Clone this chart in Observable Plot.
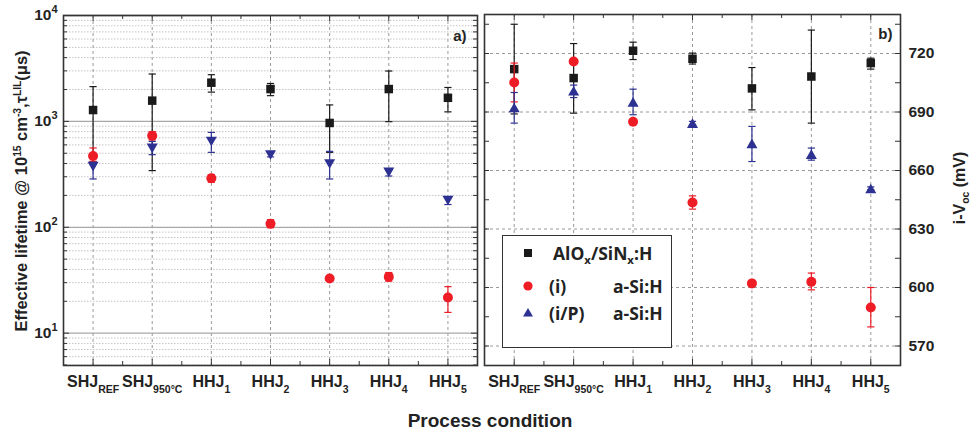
<!DOCTYPE html>
<html><head><meta charset="utf-8">
<script src="https://cdn.jsdelivr.net/npm/d3@7"></script>
<script src="https://cdn.jsdelivr.net/npm/@observablehq/plot@0.6"></script>
<style>
body{margin:0;background:#fff;}
#wrap{position:relative;width:971px;height:435px;overflow:hidden;font-family:"Liberation Sans",Arial,sans-serif;color:#222;}
.abs{position:absolute;white-space:nowrap;}
.rot{transform:translate(-50%,-50%) rotate(-90deg);}
.sup{font-size:0.62em;position:relative;top:-0.55em;}
.sub{font-size:0.65em;position:relative;top:0.35em;}
#legend{position:absolute;left:502px;top:235px;width:168px;height:111px;border:1.5px solid #333;background:#fff;font-family:"Open Sans",sans-serif;font-weight:700;font-size:17.5px;color:#222;}
#legend .it{position:absolute;white-space:nowrap;}
</style></head><body><div id="wrap"></div>
<script>
// ---- data ----
const categories = ["SHJ_{REF}", "SHJ_{950°C}", "HHJ_{1}", "HHJ_{2}", "HHJ_{3}", "HHJ_{4}", "HHJ_{5}"];

// panel a: effective lifetime (µs)
const lifeAlox    = [1280, 1570, 2320, 2020, 966, 2020, 1670];
const lifeAloxLo  = [415, 343, 1890, 1750, 510, 994, 1230];
const lifeAloxHi  = [2130, 2800, 2760, 2280, 1430, 2990, 2090];
const lifeI       = [472, 733, 290, 108, 32.8, 34.0, 21.7];
const lifeILo     = [420, 668, 266, 99, 31.5, 31, 15.7];
const lifeIHi     = [561, 800, 314, 118, 34.2, 37.4, 27.5];
const lifeIP      = [374, 556, 647, 482, 396, 330, 179];
const lifeIPLo    = [286, 485, 510, 462, 286, 305, 164];
const lifeIPHi    = [410, 647, 787, 505, 521, 348, 192];

// panel b: i-Voc (mV)
const vocAlox     = [712.0, 707.4, 721.4, 717.3, 702.1, 708.2, 715.1];
const vocAloxLo   = [689, 689.4, 716.9, 714.6, 691.1, 684.3, 712];
const vocAloxHi   = [735, 725.1, 725.8, 720.2, 712.8, 732, 717.6];
const vocI        = [705.1, 715.9, 685.0, 643.6, 602.1, 602.9, 589.7];
const vocILo      = [695.2, 714.9, 684.2, 640.2, 601.2, 598.8, 579.8];
const vocIHi      = [715.1, 716.9, 685.8, 647, 603, 607.4, 600];
const vocIP       = [692.3, 700.9, 695.2, 684.3, 673.9, 668.4, 650.8];
const vocIPLo     = [684.3, 697.4, 688.6, 683.5, 664.6, 665.3, 650];
const vocIPHi     = [700, 703.8, 701.7, 685.2, 682.6, 671.5, 651.6];

// ticks
const lifeMajorTicks = [10, 100, 1000, 10000];
const lifeMinorTicks = [5,6,7,8,9,20,30,40,50,60,70,80,90,200,300,400,500,600,700,800,900,2000,3000,4000,5000,6000,7000,8000,9000];
const vocMajorTicks = [570, 600, 630, 660, 690, 720];
const vocAllTicks = [570,585,600,615,630,645,660,675,690,705,720,735];
const xMinorTicks = [1.5, 2.5, 3.5, 4.5, 5.5, 6.5];

const legendLabels = ["AlO<span class='sub'>x</span>/SiN<span class='sub'>x</span>:H", "(i)", "(i/P)"];

// ---- helpers ----
const idx = categories.map((_, i) => i + 1);
const rows = (v, lo, hi) => v.map((d, i) => ({x: i + 1, v: d, lo: lo[i], hi: hi[i]}));
const S3 = Math.sqrt(3);
const sym = {
  square: {draw(c, s) { const h = Math.sqrt(s) / 2; c.rect(-h, -h, 2 * h, 2 * h); }},
  triDown: {draw(c, s) { const w = Math.sqrt(s * 4 / S3) / 2, h = w * S3; c.moveTo(-w, -h / 2); c.lineTo(w, -h / 2); c.lineTo(0, h / 2); c.closePath(); }},
  triUp: {draw(c, s) { const w = Math.sqrt(s * 4 / S3) / 2, h = w * S3; c.moveTo(-w, h / 2); c.lineTo(w, h / 2); c.lineTo(0, -h / 2); c.closePath(); }},
  cap: {draw(c) { c.moveTo(-3.6, 0); c.lineTo(3.6, 0); }}
};
const BLACK = "#1a1a1a", RED = "#ee1c25", BLUE = "#2d3192";

function series(data, color, symbol, r) {
  return [
    Plot.ruleX(data, {x: "x", y1: "lo", y2: "hi", stroke: color, strokeWidth: 1.2}),
    Plot.dot(data, {x: "x", y: "lo", symbol: sym.cap, r: 4, stroke: color, fill: "none", strokeWidth: 1.2}),
    Plot.dot(data, {x: "x", y: "hi", symbol: sym.cap, r: 4, stroke: color, fill: "none", strokeWidth: 1.2}),
    Plot.dot(data, {x: "x", y: "v", symbol, r, fill: color, stroke: "none"})
  ];
}

function richify(svg) {
  d3.select(svg).selectAll("text").each(function () {
    const t = this.textContent;
    const m = t.match(/^(.*?)([_^])\{(.*)\}$/);
    if (!m) return;
    const sel = d3.select(this);
    sel.text(null);
    sel.append("tspan").text(m[1]);
    if (m[2] === "_") sel.append("tspan").attr("font-size", "10.5px").attr("dy", 6.5).text(m[3]);
    else sel.append("tspan").attr("font-size", "11px").attr("dy", -7).text(m[3]);
  });
}

const FONT = "'Liberation Sans', Arial, sans-serif";
const common = {
  height: 435, marginBottom: 70,
  style: {fontFamily: FONT, fontWeight: "bold", background: "transparent", overflow: "visible", color: "#222"}
};
const TL = 5; // inward tick length
const gridStroke = "#9a9a9a";

// ---- panel a ----
const FWa = 414, FHa = 350;
const A = {alox: rows(lifeAlox, lifeAloxLo, lifeAloxHi), i: rows(lifeI, lifeILo, lifeIHi), ip: rows(lifeIP, lifeIPLo, lifeIPHi)};
const left = Plot.plot({
  ...common, width: 480, marginTop: 15, marginLeft: 63, marginRight: 3,
  x: {type: "linear", domain: [0.5, 7.5]},
  y: {type: "log", domain: [4.95, 10000]},
  marks: [
    Plot.ruleY(lifeMinorTicks, {stroke: "#c4c4c4", strokeDasharray: "1.5,1.5", strokeWidth: 1}),
    Plot.ruleY(lifeMajorTicks, {stroke: "#a8a8a8", strokeWidth: 1.3}),
    Plot.ruleX(idx, {stroke: gridStroke, strokeDasharray: "3,3"}),
    Plot.ruleY(lifeMajorTicks, {insetRight: FWa - TL - 1, stroke: "#333"}),
    Plot.ruleY(lifeMinorTicks, {insetRight: FWa - TL + 1, stroke: "#333"}),
    Plot.ruleY(lifeMajorTicks, {insetLeft: FWa - TL - 1, stroke: "#333"}),
    Plot.ruleY(lifeMinorTicks, {insetLeft: FWa - TL + 1, stroke: "#333"}),
    Plot.ruleX(idx, {insetTop: FHa - TL - 1, stroke: "#333"}),
    Plot.ruleX(xMinorTicks, {insetTop: FHa - TL + 1, stroke: "#333"}),
    Plot.ruleX(idx, {insetBottom: FHa - TL - 1, stroke: "#333"}),
    Plot.ruleX(xMinorTicks, {insetBottom: FHa - TL + 1, stroke: "#333"}),
    Plot.frame({stroke: "#333", strokeWidth: 1.6}),
    Plot.axisX({ticks: idx, anchor: "bottom", tickSize: 0, tickPadding: 10, tickFormat: i => categories[i - 1], fontSize: 16, fontWeight: "bold", label: null}),
    Plot.axisY({ticks: lifeMajorTicks, anchor: "left", tickSize: 0, tickPadding: 6, tickFormat: d => `10^{${Math.round(Math.log10(d))}}`, fontSize: 15.5, fontWeight: "bold", label: null}),
    ...series(A.alox, BLACK, sym.square, 4.8),
    ...series(A.i, RED, "circle", 5),
    ...series(A.ip, BLUE, sym.triDown, 4.1),
    Plot.text(["a)"], {frameAnchor: "top-right", dx: -11, dy: 21, text: d => d, fontSize: 15, fontWeight: "bold", textAnchor: "end", lineAnchor: "middle"})
  ]
});

// ---- panel b ----
const FWb = 416, FHb = 351;
const B = {alox: rows(vocAlox, vocAloxLo, vocAloxHi), i: rows(vocI, vocILo, vocIHi), ip: rows(vocIP, vocIPLo, vocIPHi)};
const right = Plot.plot({
  ...common, width: 491, marginTop: 14, marginLeft: 4, marginRight: 71,
  x: {type: "linear", domain: [0.5, 7.5]},
  y: {type: "linear", domain: [560, 740]},
  marks: [
    Plot.ruleY(vocMajorTicks, {stroke: gridStroke, strokeDasharray: "3,3"}),
    Plot.ruleX(idx, {stroke: gridStroke, strokeDasharray: "3,3"}),
    Plot.ruleY(vocAllTicks, {insetRight: FWb - TL, stroke: "#333"}),
    Plot.ruleY(vocAllTicks, {insetLeft: FWb - TL, stroke: "#333"}),
    Plot.ruleX(idx, {insetTop: FHb - TL - 1, stroke: "#333"}),
    Plot.ruleX(xMinorTicks, {insetTop: FHb - TL + 1, stroke: "#333"}),
    Plot.ruleX(idx, {insetBottom: FHb - TL - 1, stroke: "#333"}),
    Plot.ruleX(xMinorTicks, {insetBottom: FHb - TL + 1, stroke: "#333"}),
    Plot.frame({stroke: "#333", strokeWidth: 1.6}),
    Plot.axisX({ticks: idx, anchor: "bottom", tickSize: 0, tickPadding: 10, tickFormat: i => categories[i - 1], fontSize: 16, fontWeight: "bold", label: null}),
    Plot.axisY({ticks: vocMajorTicks, anchor: "right", tickSize: 0, tickPadding: 8, tickFormat: d => String(d), fontSize: 15.5, fontWeight: "bold", label: null}),
    ...series(B.alox, BLACK, sym.square, 4.8),
    ...series(B.i, RED, "circle", 5),
    ...series(B.ip, BLUE, sym.triUp, 4.1),
    Plot.text(["b)"], {frameAnchor: "top-right", dx: -8, dy: 20, text: d => d, fontSize: 15, fontWeight: "bold", textAnchor: "end", lineAnchor: "middle"})
  ]
});

richify(left); richify(right);
const wrap = document.getElementById("wrap");
left.style.position = "absolute"; left.style.left = "0px"; left.style.top = "0px";
right.style.position = "absolute"; right.style.left = "480px"; right.style.top = "0px";
wrap.appendChild(left); wrap.appendChild(right);

// titles
function addDiv(html, css, cls) {
  const d = document.createElement("div");
  d.className = "abs " + (cls || "");
  d.innerHTML = html;
  Object.assign(d.style, css);
  wrap.appendChild(d);
  return d;
}
addDiv("Effective lifetime @ 10<span class='sup'>15</span> cm<span class='sup'>-3</span>,τ<span class='sup'>LIL</span>(μs)",
  {left: "21px", top: "191px", fontSize: "16.5px", fontWeight: "bold"}, "rot");
addDiv("i-V<span class='sub'>oc</span> (mV)", {left: "960px", top: "188px", fontSize: "16px", fontWeight: "bold"}, "rot");
addDiv("Process condition", {left: "490px", top: "421px", fontSize: "19px", fontWeight: "bold", transform: "translate(-50%,-50%)"});

// legend
const lg = document.createElement("div");
lg.id = "legend";
wrap.appendChild(lg);
const legendSymbols = [
  `<svg width="12" height="12"><rect x="2" y="2" width="8" height="8" fill="${BLACK}"/></svg>`,
  `<svg width="12" height="12"><circle cx="6" cy="6" r="4.6" fill="${RED}"/></svg>`,
  `<svg width="12" height="12"><path d="M1,10.5 L11,10.5 L6,2 Z" fill="${BLUE}"/></svg>`
];
const legendRowsY = [17, 50, 76];
const textRowsY = [18, 51, 78];
legendLabels.forEach((lab, i) => {
  const s = document.createElement("div");
  s.className = "it";
  s.innerHTML = legendSymbols[i];
  Object.assign(s.style, {left: "19px", top: (legendRowsY[i] - 6) + "px", height: "12px", lineHeight: "0"});
  lg.appendChild(s);
  const t = document.createElement("div");
  t.className = "it";
  t.innerHTML = lab;
  Object.assign(t.style, {left: (i === 0 ? 50 : 46) + "px", top: textRowsY[i] + "px", transform: "translateY(-55%)"});
  lg.appendChild(t);
  if (i > 0) {
    const t2 = document.createElement("div");
    t2.className = "it";
    t2.textContent = "a-Si:H";
    Object.assign(t2.style, {left: "110px", top: textRowsY[i] + "px", transform: "translateY(-55%)"});
    lg.appendChild(t2);
  }
});
</script></body></html>
